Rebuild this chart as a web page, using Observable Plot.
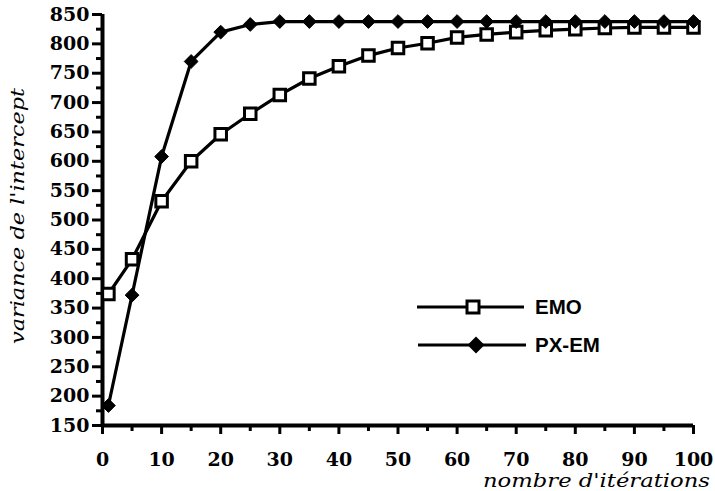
<!DOCTYPE html>
<html>
<head>
<meta charset="utf-8">
<script src="https://cdn.jsdelivr.net/npm/d3@7"></script>
<script src="https://cdn.jsdelivr.net/npm/@observablehq/plot@0.6"></script>
<style>
  html, body { margin: 0; padding: 0; background: #fff; }
  #wrap { position: relative; width: 715px; height: 491px; }
  #overlay { position: absolute; left: 0; top: 0; }
</style>
</head>
<body>
<div id="wrap"></div>
<script>
const iterations = [1, 5, 10, 15, 20, 25, 30, 35, 40, 45, 50, 55, 60, 65, 70, 75, 80, 85, 90, 95, 100];
const emo  = [374, 433, 532, 600, 646, 681, 713, 741, 762, 780, 793, 801, 811, 816, 820, 823, 825, 827, 828, 828, 828];
const pxem = [184, 372, 608, 770, 820, 833, 838, 838, 838, 838, 838, 838, 838, 838, 838, 838, 838, 838, 838, 838, 838];
const yTicks = [150, 200, 250, 300, 350, 400, 450, 500, 550, 600, 650, 700, 750, 800, 850];
const yMinor = [175, 225, 275, 325, 375, 425, 475, 525, 575, 625, 675, 725, 775, 825];
const xTicks = [0, 10, 20, 30, 40, 50, 60, 70, 80, 90, 100];
const xMinor = [5, 15, 25, 35, 45, 55, 65, 75, 85, 95];
const seriesNames = ["EMO", "PX-EM"];
const xLabel = "nombre d'itérations";
const yLabel = "variance de l'intercept";

const emoData = iterations.map((x, i) => ({x, y: emo[i]}));
const pxData = iterations.map((x, i) => ({x, y: pxem[i]}));

const tickFont = {fontFamily: "DejaVu Serif", fontSize: 19, fontWeight: "bold"};

const chart = Plot.plot({
  width: 715,
  height: 491,
  marginLeft: 102,
  marginRight: 22,
  marginTop: 14,
  marginBottom: 66,
  style: {fontFamily: "DejaVu Serif", fontSize: "19px", fontWeight: "bold", color: "#000", background: "#fff"},
  x: {domain: [0, 100]},
  y: {domain: [150, 850]},
  marks: [
    Plot.axisY({ticks: yTicks, tickSize: 10, tickPadding: 3, strokeWidth: 3, label: null, ...tickFont}),
    Plot.axisY({ticks: yMinor, tickSize: 6, text: null, strokeWidth: 3, label: null}),
    Plot.axisX({ticks: xTicks, tickSize: 9, tickPadding: 18, strokeWidth: 3, label: null, ...tickFont}),
    Plot.axisX({ticks: xMinor, tickSize: 6, text: null, strokeWidth: 3, label: null}),
    Plot.ruleX([0], {stroke: "#000", strokeWidth: 4}),
    Plot.ruleY([150], {stroke: "#000", strokeWidth: 4}),
    Plot.line(emoData, {x: "x", y: "y", stroke: "#000", strokeWidth: 3.2}),
    Plot.line(pxData, {x: "x", y: "y", stroke: "#000", strokeWidth: 3.2}),
    Plot.dot(emoData, {x: "x", y: "y", symbol: "square", r: 6.5, fill: "#fff", stroke: "#000", strokeWidth: 3}),
    Plot.dot(pxData, {x: "x", y: "y", symbol: "diamond2", r: 6.2, fill: "#000", stroke: "#000", strokeWidth: 1})
  ]
});

const wrap = document.getElementById("wrap");
wrap.appendChild(chart);

// Legend and axis titles overlay
const ns = "http://www.w3.org/2000/svg";
const ov = document.createElementNS(ns, "svg");
ov.setAttribute("id", "overlay");
ov.setAttribute("width", 715);
ov.setAttribute("height", 491);
ov.innerHTML = `
  <line x1="417" y1="307" x2="524" y2="307" stroke="#000" stroke-width="3.2"/>
  <rect x="467" y="301" width="12" height="12" fill="#fff" stroke="#000" stroke-width="3"/>
  <text x="535" y="314" font-family="Liberation Sans" font-weight="bold" font-size="20.5">${seriesNames[0]}</text>
  <line x1="418" y1="345" x2="526" y2="345" stroke="#000" stroke-width="3.2"/>
  <path d="M476,336.5 L484.5,345 L476,353.5 L467.5,345 Z" fill="#000"/>
  <text x="535" y="352" font-family="Liberation Sans" font-weight="bold" font-size="20.5">${seriesNames[1]}</text>
  <text x="710" y="487" text-anchor="end" font-family="DejaVu Serif" font-style="italic" font-size="19" textLength="227" lengthAdjust="spacingAndGlyphs">${xLabel}</text>
  <text transform="translate(24,216) rotate(-90)" text-anchor="middle" font-family="DejaVu Serif" font-style="italic" font-size="19" textLength="256" lengthAdjust="spacingAndGlyphs">${yLabel}</text>
`;
wrap.appendChild(ov);
</script>
</body>
</html>
